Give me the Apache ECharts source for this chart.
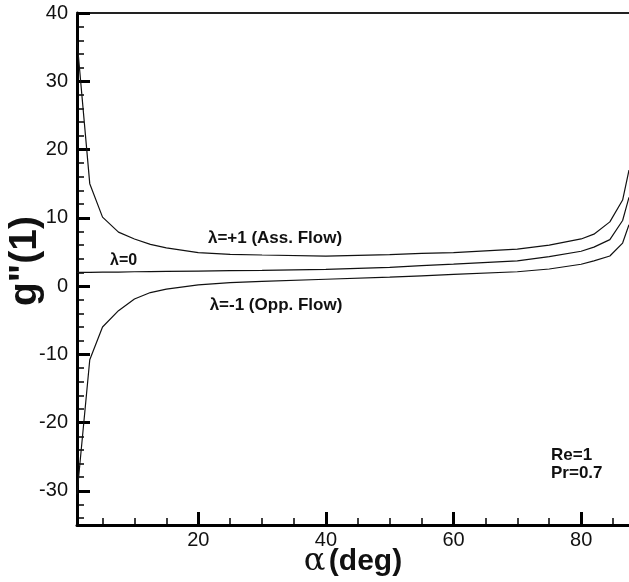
<!DOCTYPE html>
<html>
<head>
<meta charset="utf-8">
<script src="https://cdn.jsdelivr.net/npm/echarts@6/dist/echarts.min.js"></script>
<style>
  html, body { margin: 0; padding: 0; background: #fff; }
  #chart { width: 629px; height: 582px; }
</style>
</head>
<body>
<div id="chart"></div>
<script>
// Inclination angle alpha (deg) at which g''(1) was evaluated
const alpha = [1, 3, 5, 7.5, 10, 12.5, 15, 20, 25, 30, 40, 50, 55, 60, 70, 75, 80, 82, 84.5, 86.5, 87.5];

// g''(1) for the three buoyancy parameters
const gAssisting = [36, 15, 10.1, 7.9, 6.9, 6.1, 5.6, 4.9, 4.65, 4.55, 4.4, 4.6, 4.8, 4.9, 5.4, 6.0, 6.9, 7.6, 9.4, 12.6, 17];
const gNeutral   = [2.0, 2.0, 2.05, 2.05, 2.1, 2.12, 2.15, 2.2, 2.25, 2.3, 2.45, 2.75, 3.0, 3.2, 3.7, 4.3, 5.1, 5.7, 6.8, 9.6, 13];
const gOpposing  = [-30.5, -10.8, -6.0, -3.6, -1.9, -0.95, -0.45, 0.17, 0.5, 0.7, 1.0, 1.3, 1.5, 1.7, 2.1, 2.5, 3.2, 3.7, 4.4, 6.3, 9];

// Axis ticks
const xMajorTicks = [20, 40, 60, 80];
const yMajorTicks = [-30, -20, -10, 0, 10, 20, 30, 40];
const xMinorStep = 5;
const yMinorStep = 2;

const X_MIN = 1, X_MAX = 87.5, Y_MIN = -35, Y_MAX = 40;

function minorTicks(lo, hi, step, majors) {
  const out = [];
  const start = Math.ceil(lo / step) * step;
  for (let v = start; v <= hi + 1e-9; v += step) {
    if (!majors.includes(v)) out.push(v);
  }
  return out;
}

const pairs = ys => alpha.map((a, i) => [a, ys[i]]);

const FONT = '"Liberation Sans", Arial, Helvetica, sans-serif';

const chart = echarts.init(document.getElementById('chart'), null, { renderer: 'canvas' });

const lineSeries = (name, ys) => ({
  name, type: 'line', data: pairs(ys),
  xAxisIndex: 0, yAxisIndex: 0,
  showSymbol: false, symbol: 'none', smooth: false,
  lineStyle: { color: '#111', width: 1.2 },
  clip: true, silent: true, animation: false
});

chart.setOption({
  animation: false,
  backgroundColor: '#fff',
  grid: { left: 77, right: 0, top: 13, bottom: 57, containLabel: false, outerBoundsMode: 'none' },
  xAxis: [
    {
      type: 'value', min: X_MIN, max: X_MAX, position: 'bottom',
      axisLine: { show: true, onZero: false, lineStyle: { color: '#000', width: 3 } },
      axisTick: { show: true, inside: true, length: 13, customValues: xMajorTicks, lineStyle: { color: '#000', width: 3 } },
      axisLabel: { show: true, customValues: xMajorTicks, color: '#111', fontSize: 20, fontFamily: FONT, margin: 5 },
      splitLine: { show: false },
      name: '{a|α} {b|(deg)}', nameLocation: 'middle', nameGap: 21, nameMoveOverlap: false,
      nameTextStyle: {
        rich: {
          a: { fontSize: 32, fontFamily: '"DejaVu Serif", serif', color: '#111' },
          b: { fontSize: 30, fontWeight: 'bold', fontFamily: FONT, color: '#111' }
        }
      }
    },
    {
      type: 'value', min: X_MIN, max: X_MAX, position: 'bottom',
      axisLine: { show: false, onZero: false },
      axisTick: { show: true, inside: true, length: 7, customValues: minorTicks(X_MIN, X_MAX, xMinorStep, xMajorTicks), lineStyle: { color: '#000', width: 1.5 } },
      axisLabel: { show: false }, splitLine: { show: false }
    },
    {
      type: 'value', min: X_MIN, max: X_MAX, position: 'top',
      axisLine: { show: true, onZero: false, lineStyle: { color: '#222', width: 2 } },
      axisTick: { show: false }, axisLabel: { show: false }, splitLine: { show: false }
    }
  ],
  yAxis: [
    {
      type: 'value', min: Y_MIN, max: Y_MAX, position: 'left',
      axisLine: { show: true, onZero: false, lineStyle: { color: '#000', width: 3 } },
      axisTick: { show: true, inside: true, length: 13, customValues: yMajorTicks, lineStyle: { color: '#000', width: 3 } },
      axisLabel: { show: true, customValues: yMajorTicks, color: '#111', fontSize: 20, fontFamily: FONT, margin: 9 },
      splitLine: { show: false },
      name: 'g"(1)', nameLocation: 'middle', nameGap: 32, nameRotate: 90, nameMoveOverlap: false,
      nameTextStyle: { fontSize: 39, fontWeight: 'bold', fontFamily: FONT, color: '#111', padding: [0, 0, 0, 16] }
    },
    {
      type: 'value', min: Y_MIN, max: Y_MAX, position: 'left',
      axisLine: { show: false, onZero: false },
      axisTick: { show: true, inside: true, length: 7, customValues: minorTicks(Y_MIN, Y_MAX, yMinorStep, yMajorTicks), lineStyle: { color: '#000', width: 1.5 } },
      axisLabel: { show: false }, splitLine: { show: false }
    }
  ],
  series: [
    lineSeries('λ=+1', gAssisting),
    lineSeries('λ=0', gNeutral),
    lineSeries('λ=-1', gOpposing)
  ],
  graphic: [
    { type: 'text', x: 275, y: 238, style: { text: 'λ=+1 (Ass. Flow)', font: 'bold 17px ' + FONT, fill: '#111', align: 'center', verticalAlign: 'middle' } },
    { type: 'text', x: 110, y: 261, style: { text: 'λ=0', font: 'bold 16px ' + FONT, fill: '#111', align: 'left', verticalAlign: 'middle' } },
    { type: 'text', x: 276, y: 305, style: { text: 'λ=-1 (Opp. Flow)', font: 'bold 17px ' + FONT, fill: '#111', align: 'center', verticalAlign: 'middle' } },
    { type: 'text', x: 551, y: 455, style: { text: 'Re=1', font: 'bold 17px ' + FONT, fill: '#111', align: 'left', verticalAlign: 'middle' } },
    { type: 'text', x: 551, y: 473, style: { text: 'Pr=0.7', font: 'bold 17px ' + FONT, fill: '#111', align: 'left', verticalAlign: 'middle' } }
  ]
});
</script>
</body>
</html>
